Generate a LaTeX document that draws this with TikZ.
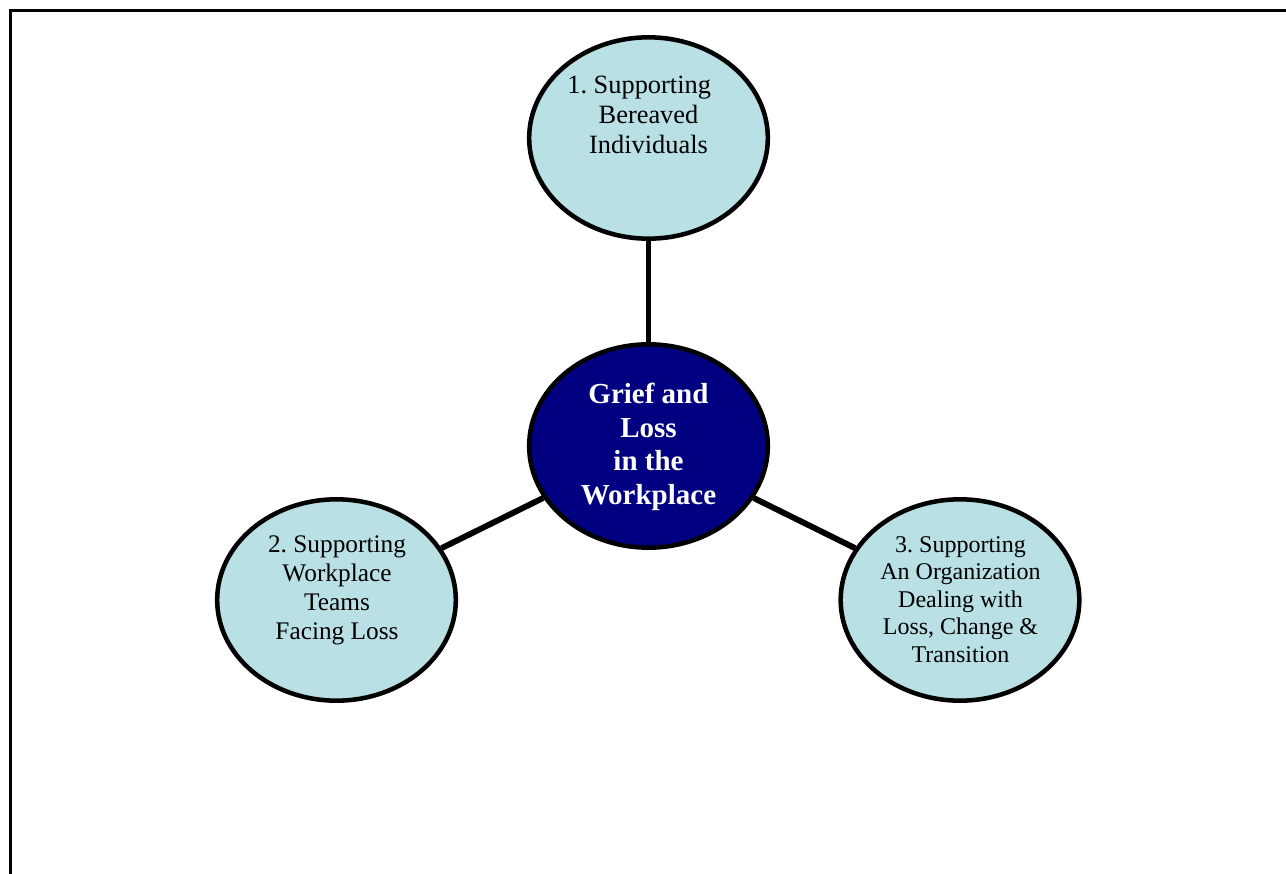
\documentclass[tikz,border=0pt]{standalone}
\usepackage{fontspec}
\setmainfont{Liberation Serif}
\usetikzlibrary{shapes.geometric}
\definecolor{bubble}{RGB}{185,224,228}
\definecolor{hub}{RGB}{0,0,128}
\frenchspacing
\begin{document}
\begin{tikzpicture}[x=0.75pt,y=-0.75pt,
  outer/.style={ellipse,draw=black,line width=3.4pt,fill=bubble,inner sep=0pt,
    minimum width=179pt,minimum height=151pt},
  core/.style={outer,fill=hub,minimum height=152.5pt},
  link/.style={line width=4.4pt},
  caption/.style={align=center,inner sep=0pt}]
\useasboundingbox (0,0) rectangle (1286,874);
\fill[white] (0,0) rectangle (1286,874);
% page frame, open to the right and bottom
\draw[line width=1.6pt] (1300,10.5) -- (10.5,10.5) -- (10.5,890);

% bubbles
\node[core]  (hubnode) at (648.5,446) {};
\node[outer] (top)     at (648.5,138) {};
\node[outer] (left)    at (336.5,600) {};
\node[outer] (right)   at (960,600)   {};

% spokes
\draw[link] (hubnode) -- (top);
\draw[link] (hubnode) -- (left);
\draw[link] (hubnode) -- (right);

% captions
\node[caption,text=white,font=\fontsize{21.75}{25.3}\selectfont\bfseries] (tc)
  at (648.5,447) {Grief and\\Loss\\in the\\Workplace};
\node[caption,font=\fontsize{19.8}{22.5}\selectfont] (t1)
  at (648.5,115) {1. Supporting\kern14pt\\Bereaved\\Individuals};
\node[caption,font=\fontsize{19}{21.75}\selectfont] (t2)
  at (337,590.5) {2. Supporting\\Workplace\\Teams\\Facing Loss};
\node[caption,font=\fontsize{18}{20.6}\selectfont] (t3)
  at (960.5,599.5) {3. Supporting\\An Organization\\Dealing with\\Loss, Change \&\\Transition};
\end{tikzpicture}
\end{document}
